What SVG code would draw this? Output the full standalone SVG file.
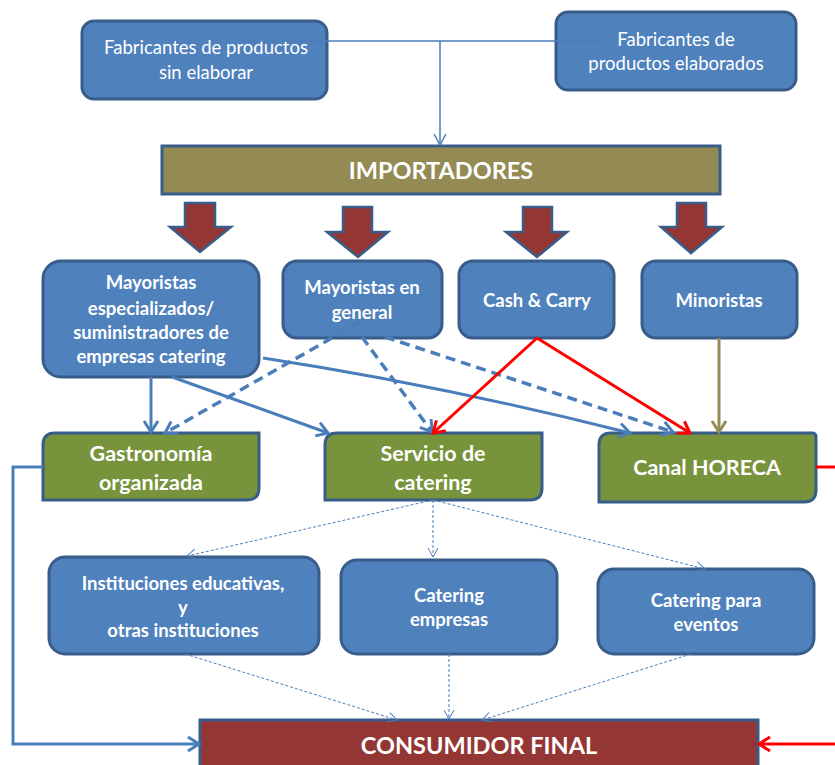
<svg xmlns="http://www.w3.org/2000/svg" width="835" height="765" viewBox="0 0 835 765">
<defs>
<style>
.bx{fill:#4f81bd;stroke:#385d8a;stroke-width:3}
.gr{fill:#77933c;stroke:#385d8a;stroke-width:3}
.t{font-family:Lato,"Liberation Sans",sans-serif;fill:#fff;text-anchor:middle}
.n{font-size:18.5px}
.b{font-size:18.5px;font-weight:bold}
.g{font-size:21.5px;font-weight:bold}
.big{font-size:23.5px;font-weight:bold}
.c{fill:none;stroke-linecap:butt}
.blue{stroke:#4a7ebb;stroke-width:3}
.thin{stroke:#4a7ebb;stroke-width:1.5}
.dash{stroke:#4a7ebb;stroke-width:3.5;stroke-dasharray:10 6}
.fine{stroke:#4a7ebb;stroke-width:1;stroke-dasharray:3 2}
.red{stroke:#ff0000;stroke-width:3}
.olive{stroke:#948a54;stroke-width:3}
.blk{fill:#943634;stroke:#385d8a;stroke-width:2.5;stroke-linejoin:miter}
</style>
<marker id="aB" markerUnits="userSpaceOnUse" markerWidth="16" markerHeight="16" refX="12" refY="7" orient="auto" overflow="visible"><path d="M1,0 L12,7 L1,14" fill="none" stroke="#4a7ebb" stroke-width="3"/></marker>
<marker id="aT" markerUnits="userSpaceOnUse" markerWidth="16" markerHeight="16" refX="12" refY="7" orient="auto" overflow="visible"><path d="M1,1 L12,7 L1,13" fill="none" stroke="#4a7ebb" stroke-width="1.5"/></marker>
<marker id="aF" markerUnits="userSpaceOnUse" markerWidth="12" markerHeight="12" refX="9" refY="5" orient="auto" overflow="visible"><path d="M0,0 L9,5 L0,10" fill="none" stroke="#4a7ebb" stroke-width="1"/></marker>
<marker id="aR" markerUnits="userSpaceOnUse" markerWidth="16" markerHeight="16" refX="12" refY="7" orient="auto" overflow="visible"><path d="M1,0 L12,7 L1,14" fill="none" stroke="#ff0000" stroke-width="3"/></marker>
<marker id="aO" markerUnits="userSpaceOnUse" markerWidth="16" markerHeight="16" refX="12" refY="7" orient="auto" overflow="visible"><path d="M1,0 L12,7 L1,14" fill="none" stroke="#948a54" stroke-width="3"/></marker>
</defs>

<g id="fab1"><rect class="bx" x="82" y="21" width="245" height="78" rx="12"/>
<text class="t n" x="206" y="54">Fabricantes de productos</text><text class="t n" x="206" y="79">sin elaborar</text></g>
<g id="fab2"><rect class="bx" x="556" y="12" width="240" height="78" rx="12"/>
<text class="t n" x="676" y="46">Fabricantes de</text><text class="t n" x="676" y="70">productos elaborados</text></g>
<g id="importadores"><rect x="162" y="146" width="558" height="48" fill="#948a54" stroke="#385d8a" stroke-width="3"/>
<text class="t big" x="441" y="179">IMPORTADORES</text></g>

<g id="may-esp"><rect class="bx" x="43" y="261" width="216" height="116" rx="18"/>
<text class="t b" x="151" y="289">Mayoristas</text><text class="t b" x="151" y="315">especializados/</text><text class="t b" x="151" y="339">suministradores de</text><text class="t b" x="151" y="363">empresas catering</text></g>
<g id="may-gen"><rect class="bx" x="283" y="261" width="159" height="77" rx="14"/>
<text class="t b" x="362" y="294">Mayoristas en</text><text class="t b" x="362" y="319">general</text></g>
<g id="cash"><rect class="bx" x="459" y="261" width="155" height="77" rx="14"/>
<text class="t b" x="537" y="307">Cash &amp; Carry</text></g>
<g id="minoristas"><rect class="bx" x="642" y="261" width="155" height="77" rx="14"/>
<text class="t b" x="719" y="307">Minoristas</text></g>

<g id="gastronomia"><path class="gr" d="M55,433 H259 V488 Q259,500 247,500 H43 V445 Q43,433 55,433 Z"/>
<text class="t g" x="151" y="461">Gastronomía</text><text class="t g" x="151" y="490">organizada</text></g>
<g id="servicio"><path class="gr" d="M337,433 H542 V488 Q542,500 530,500 H325 V445 Q325,433 337,433 Z"/>
<text class="t g" x="433" y="461">Servicio de</text><text class="t g" x="433" y="490">catering</text></g>
<g id="horeca"><path class="gr" d="M611,433 H812 Q816,433 816,437 V490 Q816,502 804,502 H599 V445 Q599,433 611,433 Z"/>
<text class="t g" x="707" y="475">Canal HORECA</text></g>

<g id="instituciones"><rect class="bx" x="49" y="557" width="270" height="97" rx="16"/>
<text class="t b" x="183" y="590">Instituciones educativas,</text><text class="t b" x="183" y="614">y</text><text class="t b" x="183" y="637">otras instituciones</text></g>
<g id="cat-emp"><rect class="bx" x="341" y="560" width="216" height="94" rx="16"/>
<text class="t b" x="449" y="602">Catering</text><text class="t b" x="449" y="626">empresas</text></g>
<g id="cat-ev"><rect class="bx" x="598" y="569" width="216" height="85" rx="16"/>
<text class="t b" x="706" y="607">Catering para</text><text class="t b" x="706" y="631">eventos</text></g>

<g id="consumidor"><rect x="200" y="720" width="558" height="60" fill="#943634" stroke="#385d8a" stroke-width="3"/>
<text class="t big" x="479" y="754">CONSUMIDOR FINAL</text></g>

<g id="connectors">
<path class="c thin" d="M240,41 H600"/>
<path class="c thin" d="M440,41 V145" marker-end="url(#aT)"/>
<polygon class="blk" points="185,203 215,203 215,227 231,227 200,252 170,227 185,227"/>
<polygon class="blk" points="343,207 372,207 372,232 388,232 358,257 327,232 343,232"/>
<polygon class="blk" points="523,207 552,207 552,232 567,232 537,257 506,232 523,232"/>
<polygon class="blk" points="677,203 706,203 706,227 722,227 691,253 661,227 677,227"/>
<path class="c blue" d="M151,377 V432" marker-end="url(#aB)"/>
<path class="c blue" d="M172,377 L328,433" marker-end="url(#aB)"/>
<path class="c blue" d="M263,358 Q440,385 630,433" marker-end="url(#aB)"/>
<path class="c dash" d="M360,322 L165,433" marker-end="url(#aB)"/>
<path class="c dash" d="M362,337 L432,432" marker-end="url(#aB)"/>
<path class="c dash" d="M385,337 L673,432" marker-end="url(#aB)"/>
<path class="c red" d="M537,338 L433,433" marker-end="url(#aR)"/>
<path class="c red" d="M537,338 L690,433" marker-end="url(#aR)"/>
<path class="c olive" d="M719,338 V432" marker-end="url(#aO)"/>
<path class="c red" d="M816,467 H835"/>
<path class="c blue" d="M43,467 H13 V744 H199" marker-end="url(#aB)"/>
<path class="c red" d="M835,744 H759" marker-end="url(#aR)"/>
<path class="c fine" d="M433,500 L187,556" marker-end="url(#aF)"/>
<path class="c fine" d="M433,500 V557" marker-end="url(#aF)"/>
<path class="c fine" d="M433,500 L705,569" marker-end="url(#aF)"/>
<path class="c fine" d="M185,654 L397,720" marker-end="url(#aF)"/>
<path class="c fine" d="M449,654 V719" marker-end="url(#aF)"/>
<path class="c fine" d="M691,654 L482,720" marker-end="url(#aF)"/>
</g>
</svg>
